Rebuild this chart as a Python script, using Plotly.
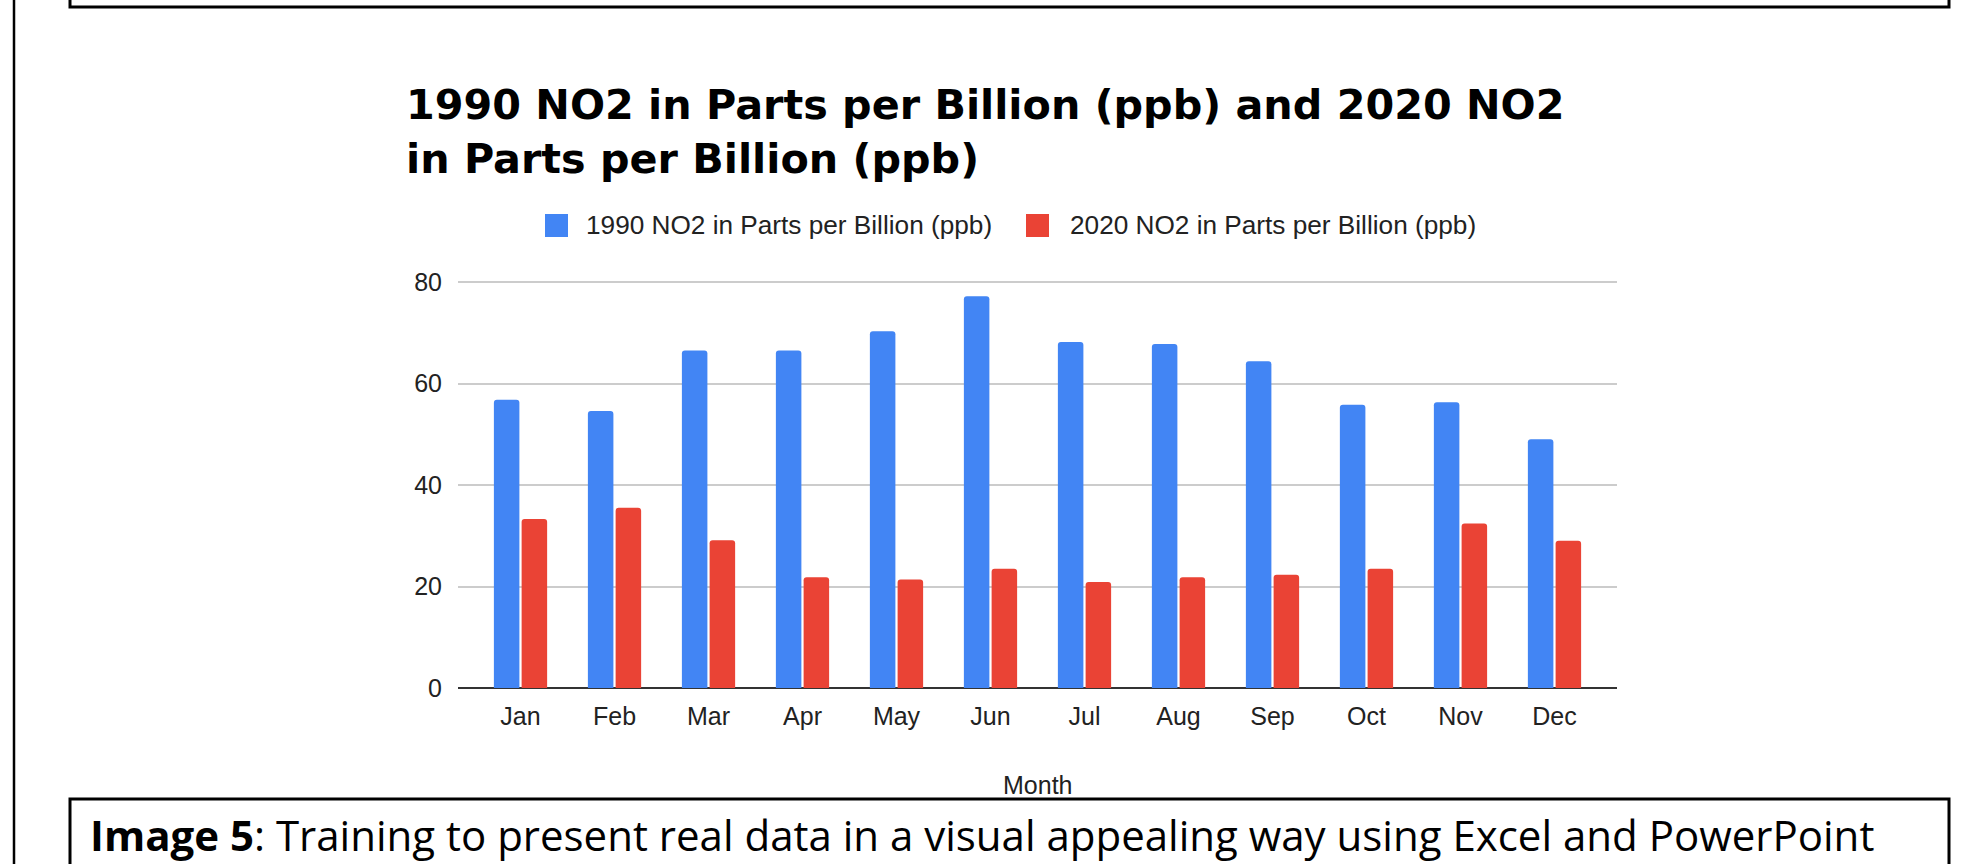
import plotly.graph_objects as go

months = ["Jan", "Feb", "Mar", "Apr", "May", "Jun", "Jul", "Aug", "Sep", "Oct", "Nov", "Dec"]
no2_1990 = [56.8, 54.6, 66.5, 66.5, 70.3, 77.2, 68.2, 67.8, 64.4, 55.8, 56.3, 49.0]
no2_2020 = [33.3, 35.5, 29.1, 21.8, 21.4, 23.5, 20.9, 21.8, 22.3, 23.5, 32.4, 29.0]
series_names = ["1990 NO2 in Parts per Billion (ppb)", "2020 NO2 in Parts per Billion (ppb)"]
y_ticks = [0, 20, 40, 60, 80]
title_text = "1990 NO2 in Parts per Billion (ppb) and 2020 NO2<br>in Parts per Billion (ppb)"
x_title = "Month"
caption_bold = "Image 5"
caption_rest = ": Training to present real data in a visual appealing way using Excel and PowerPoint"

BLUE = "#4285F4"
RED = "#EA4335"

W, H = 1982, 864
ML, MR, MT, MB = 458, 365, 280, 176
PW = W - ML - MR
PH = H - MT - MB


def px(x):
    return (x - ML) / PW


def py(y):
    return (H - MB - y) / PH


fig = go.Figure()
fig.add_trace(go.Bar(x=months, y=no2_1990, name=series_names[0],
                     marker=dict(color=BLUE, cornerradius=3, line=dict(width=0)),
                     showlegend=False))
fig.add_trace(go.Bar(x=months, y=no2_2020, name=series_names[1],
                     marker=dict(color=RED, cornerradius=3, line=dict(width=0)),
                     showlegend=False))

font_main = "Liberation Sans, Arial, sans-serif"

annotations = [
    dict(text=title_text, xref="paper", yref="paper", x=px(404), y=py(79),
         xanchor="left", yanchor="top", align="left", showarrow=False,
         font=dict(family="DejaVu Sans", size=41.3, color="#000000", weight="bold")),
    dict(text=series_names[0], xref="paper", yref="paper", x=px(584), y=py(225),
         xanchor="left", yanchor="middle", showarrow=False,
         font=dict(family=font_main, size=26.2, color="#222222")),
    dict(text=series_names[1], xref="paper", yref="paper", x=px(1068), y=py(225),
         xanchor="left", yanchor="middle", showarrow=False,
         font=dict(family=font_main, size=26.2, color="#222222")),
    dict(text=x_title, xref="paper", yref="paper", x=0.5, y=py(785),
         xanchor="center", yanchor="middle", showarrow=False,
         font=dict(family=font_main, size=25, color="#222222")),
    dict(text="<b>" + caption_bold + "</b>" + caption_rest, xref="paper", yref="paper",
         x=px(88), y=py(834), xanchor="left", yanchor="middle", showarrow=False,
         font=dict(family="Open Sans", size=42, color="#000000")),
]

shapes = [
    # legend swatches
    dict(type="rect", xref="paper", yref="paper", x0=px(545), x1=px(568), y0=py(214), y1=py(237),
         fillcolor=BLUE, line=dict(width=0), layer="above"),
    dict(type="rect", xref="paper", yref="paper", x0=px(1026), x1=px(1049), y0=py(214), y1=py(237),
         fillcolor=RED, line=dict(width=0), layer="above"),
    # page frame left line
    dict(type="line", xref="paper", yref="paper", x0=px(14), x1=px(14), y0=py(-5), y1=py(870),
         line=dict(color="#000000", width=2.5)),
    # top box
    dict(type="rect", xref="paper", yref="paper", x0=px(70), x1=px(1949), y0=py(-20), y1=py(7),
         line=dict(color="#000000", width=3)),
    # bottom box
    dict(type="rect", xref="paper", yref="paper", x0=px(70), x1=px(1949), y0=py(799), y1=py(900),
         line=dict(color="#000000", width=3)),
]

fig.update_layout(
    width=W, height=H,
    margin=dict(l=ML, r=MR, t=MT, b=MB, pad=0),
    paper_bgcolor="white", plot_bgcolor="white",
    barmode="group", bargap=0.41, bargroupgap=0.08,
    annotations=annotations, shapes=shapes,
    showlegend=False,
)
fig.update_xaxes(range=[-0.665, 11.665], showgrid=False, showline=False, ticks="",
                 tickfont=dict(family=font_main, size=25, color="#222222"),
                 ticklabelstandoff=11, fixedrange=True)
fig.update_yaxes(range=[0, 80.4], tickvals=y_ticks, showgrid=True, gridcolor="#CCCCCC", gridwidth=2,
                 zeroline=True, zerolinecolor="#333333", zerolinewidth=2, showline=False, ticks="",
                 tickfont=dict(family=font_main, size=25, color="#222222"),
                 ticklabelstandoff=15, fixedrange=True)

fig.write_html("out.html", config=dict(displayModeBar=False))
